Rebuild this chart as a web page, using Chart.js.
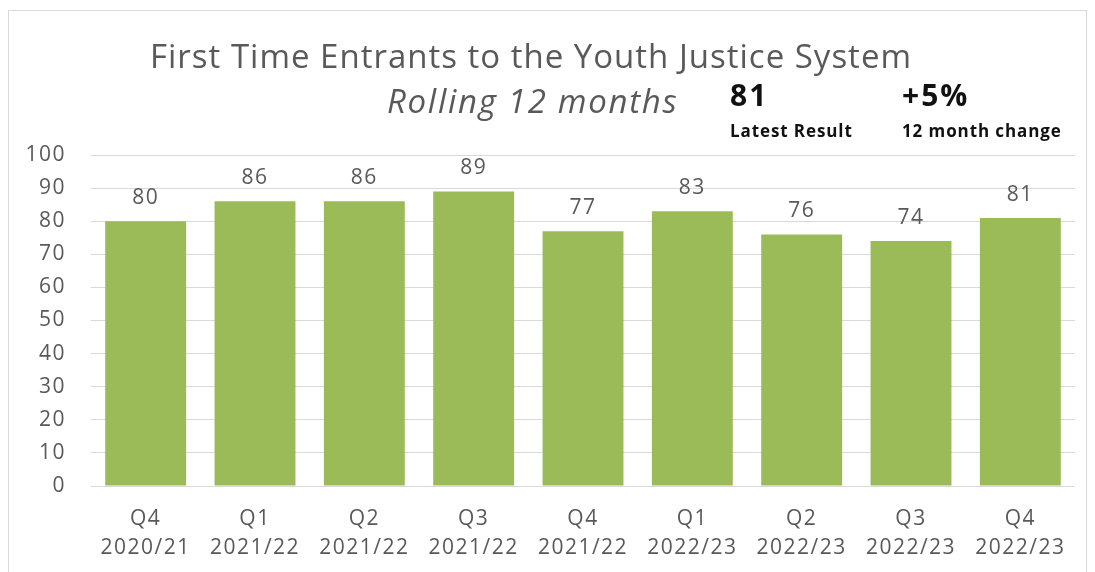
<!DOCTYPE html>
<html>
<head>
<meta charset="utf-8">
<script src="https://cdn.jsdelivr.net/npm/chart.js@4/dist/chart.umd.min.js"></script>
<style>
  html, body { margin: 0; padding: 0; background: #fff; overflow: hidden; }
  #wrap { position: relative; width: 1095px; height: 572px; font-family: "Open Sans", sans-serif; }
  #frame { position: absolute; left: 8px; top: 10px; width: 1077px; height: 600px; border: 1px solid #d9d9d9; }
  #grafico { position: absolute; left: 0; top: 0; }
  .txt { position: absolute; white-space: nowrap; }
  #titulo { left: 150px; top: 39px; font-size: 33px; line-height: 33px; letter-spacing: 1px; color: #595959; }
  #sub { left: 387px; top: 84px; font-size: 33px; line-height: 33px; letter-spacing: 1.7px; font-style: italic; color: #595959; }
  .big { font-size: 30px; line-height: 30px; letter-spacing: 2px; font-weight: bold; color: #111; top: 80px; }
  .small { font-size: 17px; line-height: 17px; letter-spacing: 0.9px; font-weight: bold; color: #111; top: 122px; }
</style>
</head>
<body>
<div id="wrap">
  <div id="frame"></div>
  <canvas id="grafico" width="1095" height="572"></canvas>
  <div class="txt" id="titulo">First Time Entrants to the Youth Justice System</div>
  <div class="txt" id="sub">Rolling 12 months</div>
  <div class="txt big" style="left:730px">81</div>
  <div class="txt small" style="left:730px">Latest Result</div>
  <div class="txt big" style="left:902px">+5%</div>
  <div class="txt small" style="left:902px">12 month change</div>
</div>
<script>
const trimestres = ["Q4", "Q1", "Q2", "Q3", "Q4", "Q1", "Q2", "Q3", "Q4"];
const anos = ["2020/21", "2021/22", "2021/22", "2021/22", "2021/22", "2022/23", "2022/23", "2022/23", "2022/23"];
const entrantes = [80, 86, 86, 89, 77, 83, 76, 74, 81];

const labels = trimestres.map((q, i) => [q, anos[i]]);
const fonte = '"Open Sans", sans-serif';

// espaçamento entre letras nos textos do canvas
const espacamento = {
  id: 'espacamento',
  beforeDraw(chart) { chart.ctx.letterSpacing = '1.5px'; }
};

// rótulos de valor acima das barras
const rotulos = {
  id: 'rotulos',
  afterDatasetsDraw(chart) {
    const ctx = chart.ctx;
    const meta = chart.getDatasetMeta(0);
    ctx.save();
    ctx.font = '21px ' + fonte;
    ctx.fillStyle = '#595959';
    ctx.textAlign = 'center';
    ctx.textBaseline = 'alphabetic';
    meta.data.forEach((bar, i) => {
      ctx.fillText(entrantes[i], bar.x, bar.y - 17);
    });
    ctx.restore();
  }
};

new Chart(document.getElementById("grafico"), {
  type: 'bar',
  data: {
    labels,
    datasets: [{
      data: entrantes,
      backgroundColor: '#9bbb59',
      borderWidth: 0,
      categoryPercentage: 1,
      barPercentage: 0.74
    }]
  },
  options: {
    responsive: false,
    animation: false,
    layout: { padding: { top: 155, right: 20, left: 0, bottom: 0 } },
    plugins: { legend: { display: false }, tooltip: { enabled: false } },
    scales: {
      x: {
        grid: { display: false },
        border: { display: false },
        ticks: {
          color: '#595959',
          padding: 11,
          maxRotation: 0,
          font: { family: fonte, size: 21, lineHeight: 1.35 }
        },
        afterFit(scale) { scale.height = 86; }
      },
      y: {
        min: 0,
        max: 100,
        grid: { color: '#d9d9d9', drawTicks: false },
        border: { display: false },
        ticks: {
          stepSize: 10,
          color: '#595959',
          padding: 25,
          font: { family: fonte, size: 21 }
        },
        afterFit(scale) { scale.width = 91; }
      }
    }
  },
  plugins: [espacamento, rotulos]
});
</script>
</body>
</html>
